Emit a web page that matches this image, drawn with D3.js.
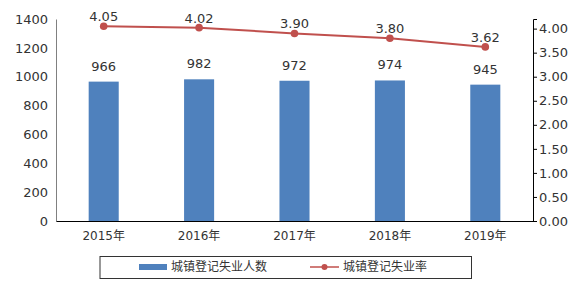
<!DOCTYPE html>
<html><head><meta charset="utf-8">
<script src="https://cdn.jsdelivr.net/npm/d3@7"></script>
<style>
body{margin:0;background:#fff;}
text{font-family:"DejaVu Sans","Noto Sans CJK SC",sans-serif;fill:#333;}
</style></head>
<body><svg id="c" width="581" height="288"></svg>
<script>
const categories = ["2015年","2016年","2017年","2018年","2019年"];
const persons = [966, 982, 972, 974, 945];
const rates = [4.05, 4.02, 3.90, 3.80, 3.62];
const leftTicks = [0,200,400,600,800,1000,1200,1400];
const rightTicks = [0,0.5,1,1.5,2,2.5,3,3.5,4];
const seriesNames = ["城镇登记失业人数","城镇登记失业率"];

const svg = d3.select("#c");
const L = 56, R = 533, T = 19, B = 221;
const x = d3.scaleBand().domain(categories).range([L, R]).paddingInner(0.685).paddingOuter(0.3425);
const yL = d3.scaleLinear().domain([0, 1400]).range([B, T]);
const yR = d3.scaleLinear().domain([0, 4.2]).range([B, T]);
const barColor = "#4F81BD", lineColor = "#C0504D";

// left axis
const gL = svg.append("g").attr("transform", `translate(${L},0)`)
  .call(d3.axisLeft(yL).tickValues(leftTicks).tickSize(0).tickPadding(8).tickFormat(d3.format("d")));
gL.select(".domain").attr("stroke", "#808080").attr("stroke-width", 1);
gL.selectAll("text").style("font-size", "13px").attr("fill", "#333");

// right axis
const gR = svg.append("g").attr("transform", `translate(${R},0)`)
  .call(d3.axisRight(yR).tickValues(rightTicks).tickSize(4).tickPadding(2).tickFormat(d3.format(".2f")));
gR.select(".domain").attr("stroke", "#000").attr("stroke-width", 1);
gR.selectAll(".tick line").attr("stroke", "#000");
gR.selectAll("text").style("font-size", "13px").attr("fill", "#333");

// bars
svg.append("g").selectAll("rect").data(persons).join("rect")
  .attr("x", (d,i) => x(categories[i]))
  .attr("width", x.bandwidth())
  .attr("y", d => yL(d))
  .attr("height", d => B - yL(d))
  .attr("fill", barColor);

// bottom axis
const gB = svg.append("g").attr("transform", `translate(0,${B})`)
  .call(d3.axisBottom(x).tickSize(0).tickPadding(10));
gB.select(".domain").attr("stroke", "#000").attr("stroke-width", 1.2);
gB.selectAll("text").style("font-size", "12px").attr("fill", "#333");

// bar labels
svg.append("g").selectAll("text").data(persons).join("text")
  .attr("x", (d,i) => x(categories[i]) + x.bandwidth()/2)
  .attr("y", d => yL(d) - 11)
  .attr("text-anchor", "middle")
  .style("font-size", "13px")
  .text(d => d);

// line
const cx = (i) => x(categories[i]) + x.bandwidth()/2;
svg.append("path").datum(rates)
  .attr("d", d3.line().x((d,i) => cx(i)).y(d => yR(d)))
  .attr("fill", "none").attr("stroke", lineColor).attr("stroke-width", 2);
svg.append("g").selectAll("circle").data(rates).join("circle")
  .attr("cx", (d,i) => cx(i)).attr("cy", d => yR(d)).attr("r", 3.8).attr("fill", lineColor);
svg.append("g").selectAll("text").data(rates).join("text")
  .attr("x", (d,i) => cx(i))
  .attr("y", d => yR(d) - 5)
  .attr("text-anchor", "middle")
  .style("font-size", "13px")
  .text(d => d.toFixed(2));

// legend
const lg = svg.append("g");
lg.append("rect").attr("x", 100).attr("y", 256.5).attr("width", 371.5).attr("height", 22)
  .attr("fill", "none").attr("stroke", "#333").attr("stroke-width", 1);
lg.append("rect").attr("x", 139).attr("y", 264).attr("width", 28).attr("height", 6).attr("fill", barColor);
lg.append("text").attr("x", 171).attr("y", 267.5).attr("dominant-baseline", "middle")
  .style("font-size", "12px").attr("fill", "#595959").text(seriesNames[0]);
lg.append("line").attr("x1", 310).attr("x2", 339).attr("y1", 267).attr("y2", 267)
  .attr("stroke", lineColor).attr("stroke-width", 1.5);
lg.append("circle").attr("cx", 324.5).attr("cy", 267).attr("r", 3).attr("fill", lineColor);
lg.append("text").attr("x", 343).attr("y", 267.5).attr("dominant-baseline", "middle")
  .style("font-size", "12px").attr("fill", "#595959").text(seriesNames[1]);
</script></body></html>
